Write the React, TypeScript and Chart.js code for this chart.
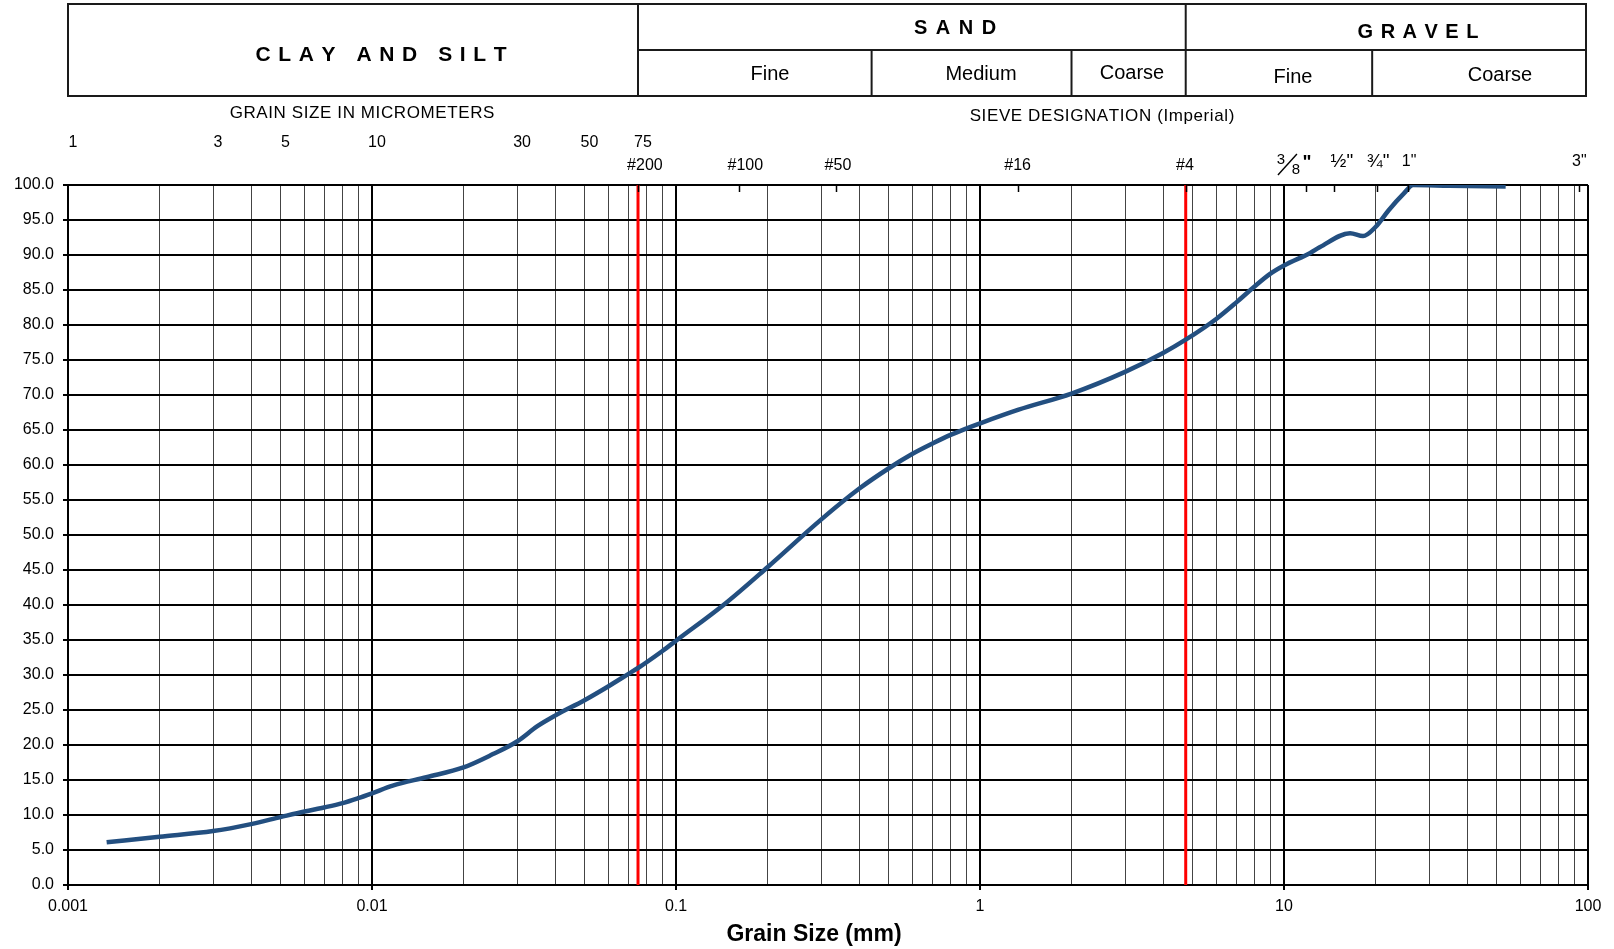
import React, { useEffect, useRef } from 'react';
import { Chart, registerables } from 'chart.js';

Chart.register(...registerables);

// ---- data ----
const grainSizeMm = [
  0.00134, 0.002, 0.003, 0.004, 0.005, 0.006, 0.007, 0.008, 0.009, 0.01,
  0.0117, 0.0151, 0.02, 0.025, 0.03, 0.035, 0.04, 0.05, 0.06, 0.07,
  0.075, 0.09, 0.1, 0.146, 0.2, 0.3, 0.4, 0.5, 0.6, 0.7,
  0.8, 0.9, 1.0, 1.34, 2.0, 3.0, 4.0, 4.75, 6.0, 7.0,
  8.0, 9.0, 10, 12.2, 13.1, 16.5, 18.2, 20.0, 22.1, 24.8,
  26.6, 35, 53.6,
];
const percentPassing = [
  6.1, 6.9, 7.7, 8.7, 9.7, 10.5, 11.1, 11.7, 12.4, 13.1,
  14.2, 15.4, 16.8, 18.7, 20.5, 22.7, 24.2, 26.4, 28.4, 30.2,
  31.0, 33.4, 34.9, 40.3, 45.4, 52.2, 56.6, 59.5, 61.6, 63.1,
  64.3, 65.2, 65.95, 67.9, 70.2, 73.3, 76.0, 77.9, 80.9, 83.3,
  85.5, 87.3, 88.5, 90.3, 91.1, 93.1, 92.7, 94.0, 96.4, 98.8,
  100, 99.9, 99.8,
];

const xMin = 0.001;
const xMax = 100;
const decadeTicks = [0.001, 0.01, 0.1, 1, 10, 100];
const decadeLabels = ['0.001', '0.01', '0.1', '1', '10', '100'];
const minorMultipliers = [2, 3, 4, 5, 6, 7, 8, 9];
const yMin = 0;
const yMax = 100;
const yStep = 5;

const boundaryLines = [0.075, 4.75]; // red lines: #200 and #4 sieve

const micrometerValues = [1, 3, 5, 10, 30, 50, 75];
const micrometerLabels = ['1', '3', '5', '10', '30', '50', '75'];

const sieveLabels = ['#200', '#100', '#50', '#16', '#4', '3/8"', '\u00BD"', '\u00BE"', '1"', '3"'];
const sieveLabelAt = [0.079, 0.169, 0.341, 1.33, 4.72, 10.7, 15.5, 20.4, 25.8, 93.7];
const sieveTickAt = [0.075, 0.161, 0.336, 1.33, 4.75, 11.8, 14.6, 20.2, 25.6, 93.7];

// header classification boundaries (mm)
const soilBoundaries = [0.001, 0.075, 0.44, 2.0, 4.75, 19.5, 98.5];

const FONT = "'Liberation Sans', Arial, Helvetica, sans-serif";

function isDecade(v: number) {
  const l = Math.log10(v);
  return Math.abs(l - Math.round(l)) < 1e-9;
}

function spacedText(ctx: CanvasRenderingContext2D, text: string, cx: number, cy: number, spacing: number) {
  const chars = Array.from(text);
  const widths = chars.map((c) => ctx.measureText(c).width);
  const total = widths.reduce((a, b) => a + b, 0) + spacing * (chars.length - 1);
  let x = cx - total / 2;
  ctx.textAlign = 'left';
  chars.forEach((c, i) => {
    ctx.fillText(c, x, cy);
    x += widths[i] + spacing;
  });
  ctx.textAlign = 'center';
}

const overlayPlugin = {
  id: 'overlay',
  beforeDraw(chart: any) {
    const { ctx, width, height } = chart;
    ctx.save();
    ctx.fillStyle = '#ffffff';
    ctx.fillRect(0, 0, width, height);
    ctx.restore();
  },
  afterDraw(chart: any) {
    const { ctx, chartArea: area } = chart;
    const xs = chart.scales.x;
    ctx.save();

    const line = (x1: number, y1: number, x2: number, y2: number) => {
      ctx.beginPath();
      ctx.moveTo(x1, y1);
      ctx.lineTo(x2, y2);
      ctx.stroke();
    };

    // ---- header table ----
    const bx = soilBoundaries.map((v) => xs.getPixelForValue(v));
    const top = 4;
    const mid = 50;
    const bot = 96;
    ctx.strokeStyle = '#1a1a1a';
    ctx.lineWidth = 2;
    ctx.strokeRect(bx[0], top, bx[6] - bx[0], bot - top);
    line(bx[1], mid, bx[6], mid);
    line(bx[1], top, bx[1], bot);
    line(bx[4], top, bx[4], bot);
    line(bx[2], mid, bx[2], bot);
    line(bx[3], mid, bx[3], bot);
    line(bx[5], mid, bx[5], bot);

    ctx.fillStyle = '#000';
    ctx.textBaseline = 'middle';
    ctx.font = `bold 21px ${FONT}`;
    spacedText(ctx, 'CLAY AND SILT', 381, 55, 7.6);
    ctx.font = `bold 20px ${FONT}`;
    spacedText(ctx, 'SAND', 955, 28, 8.5);
    spacedText(ctx, 'GRAVEL', 1418, 32, 7.5);

    ctx.font = `20px ${FONT}`;
    ctx.textAlign = 'center';
    ctx.fillText('Fine', 770, 74);
    ctx.fillText('Medium', 981, 74);
    ctx.fillText('Coarse', 1132, 73);
    ctx.fillText('Fine', 1293, 77);
    ctx.fillText('Coarse', 1500, 75);

    // ---- secondary scale captions ----
    ctx.font = `17px ${FONT}`;
    spacedText(ctx, 'GRAIN SIZE IN MICROMETERS', 362, 113, 0.6);
    spacedText(ctx, 'SIEVE DESIGNATION (Imperial)', 1102, 116, 0.6);

    // micrometer labels
    ctx.font = `16px ${FONT}`;
    ctx.textAlign = 'center';
    micrometerValues.forEach((um, i) => {
      const px = xs.getPixelForValue(um / 1000) + 5;
      ctx.fillText(micrometerLabels[i], px, 143);
    });

    // sieve labels
    sieveLabels.forEach((lab, i) => {
      const px = xs.getPixelForValue(sieveLabelAt[i]);
      ctx.textAlign = 'center';
      if (lab === '3/8"') {
        // stacked fraction 3/8"
        ctx.font = `15px ${FONT}`;
        ctx.fillText('3', px - 12, 160);
        ctx.fillText('8', px + 3, 170);
        ctx.strokeStyle = '#000';
        ctx.lineWidth = 1.4;
        line(px - 15, 175, px + 4, 154);
        ctx.font = `bold 19px ${FONT}`;
        ctx.fillText('"', px + 14, 163);
      } else if (lab.startsWith('#')) {
        ctx.font = `16px ${FONT}`;
        ctx.fillText(lab, px, 166);
      } else if (lab.startsWith('\u00BD') || lab.startsWith('\u00BE')) {
        ctx.font = `19px ${FONT}`;
        ctx.fillText(lab, px, 162);
      } else {
        ctx.font = `16px ${FONT}`;
        ctx.fillText(lab, px, 162);
      }
    });

    // sieve tick marks on top edge
    ctx.strokeStyle = '#000';
    ctx.lineWidth = 1.5;
    sieveTickAt.forEach((v) => {
      const px = Math.round(xs.getPixelForValue(v)) + 0.5;
      line(px, area.top, px, area.top + 7);
    });

    // axis title
    ctx.font = `bold 23px ${FONT}`;
    ctx.textAlign = 'center';
    ctx.fillText('Grain Size (mm)', 814, 935);

    ctx.restore();
  },
};

export default function App() {
  const canvasRef = useRef<HTMLCanvasElement | null>(null);

  useEffect(() => {
    const canvas = canvasRef.current;
    if (!canvas) return;

    const curve = grainSizeMm.map((d, i) => ({ x: d, y: percentPassing[i] }));
    const redSets = boundaryLines.map((v) => ({
      label: `limit ${v}`,
      data: [
        { x: v, y: yMin },
        { x: v, y: yMax },
      ],
      borderColor: '#ff0000',
      borderWidth: 3,
      pointRadius: 0,
      fill: false,
      order: 2,
    }));

    const chart = new Chart(canvas, {
      type: 'line',
      data: {
        datasets: [
          {
            label: 'Percent passing',
            data: curve,
            borderColor: '#234f80',
            borderWidth: 4.5,
            pointRadius: 0,
            fill: false,
            cubicInterpolationMode: 'monotone',
            order: 1,
          },
          ...redSets,
        ],
      },
      options: {
        responsive: false,
        animation: false,
        events: [],
        layout: { padding: { left: 0, top: 185, right: 26, bottom: 0 } },
        plugins: {
          legend: { display: false },
          tooltip: { enabled: false },
          title: { display: false },
        },
        scales: {
          x: {
            type: 'logarithmic',
            min: xMin,
            max: xMax,
            afterBuildTicks: (axis: any) => {
              const ticks: { value: number }[] = [];
              for (let k = 0; k < decadeTicks.length - 1; k++) {
                ticks.push({ value: decadeTicks[k] });
                minorMultipliers.forEach((m) => ticks.push({ value: +(decadeTicks[k] * m).toPrecision(6) }));
              }
              ticks.push({ value: decadeTicks[decadeTicks.length - 1] });
              axis.ticks = ticks;
            },
            afterFit: (scale: any) => {
              scale.height = 64;
            },
            ticks: {
              autoSkip: false,
              maxRotation: 0,
              minRotation: 0,
              padding: 7,
              color: '#000',
              font: { family: FONT, size: 16 },
              callback: (value: any) => {
                const idx = decadeTicks.findIndex((d) => Math.abs(d - Number(value)) < d * 1e-6);
                return idx >= 0 ? decadeLabels[idx] : '';
              },
            },
            grid: {
              drawOnChartArea: true,
              drawTicks: true,
              tickLength: 5,
              color: (c: any) => (c.tick && isDecade(c.tick.value) ? '#000' : '#444'),
              lineWidth: (c: any) => (c.tick && isDecade(c.tick.value) ? 2 : 1),
              tickColor: (c: any) => (c.tick && isDecade(c.tick.value) ? '#000' : 'rgba(0,0,0,0)'),
            },
            border: { display: true, color: '#000', width: 2 },
          },
          y: {
            type: 'linear',
            min: yMin,
            max: yMax,
            afterFit: (scale: any) => {
              scale.width = 68;
            },
            ticks: {
              stepSize: yStep,
              padding: 9,
              color: '#000',
              font: { family: FONT, size: 16 },
              callback: (value: any) => Number(value).toFixed(1),
            },
            grid: {
              color: '#000',
              lineWidth: 2,
              tickLength: 5,
              tickColor: '#000',
            },
            border: { display: true, color: '#000', width: 2 },
          },
        },
      },
      plugins: [overlayPlugin],
    } as any);

    return () => chart.destroy();
  }, []);

  return (
    <div style={{ position: 'absolute', left: 0, top: 0, width: 1614, height: 949, background: '#fff' }}>
      <canvas ref={canvasRef} width={1614} height={949} style={{ display: 'block', width: 1614, height: 949 }} />
    </div>
  );
}
